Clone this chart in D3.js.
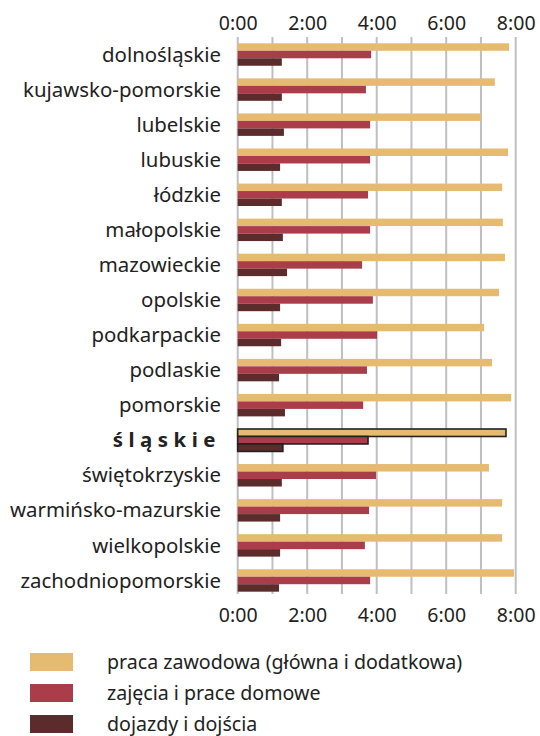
<!DOCTYPE html>
<html>
<head>
<meta charset="utf-8">
<script src="https://cdn.jsdelivr.net/npm/d3@7"></script>
<style>
  body { margin: 0; background: #fff; }
  svg { display: block; font-family: "Noto Sans", "Open Sans", sans-serif; }
</style>
</head>
<body>
<script>
// regions (voivodeships), top to bottom
const regions = ["dolnośląskie", "kujawsko-pomorskie", "lubelskie", "lubuskie", "łódzkie",
  "małopolskie", "mazowieckie", "opolskie", "podkarpackie", "podlaskie", "pomorskie",
  "śląskie", "świętokrzyskie", "warmińsko-mazurskie", "wielkopolskie", "zachodniopomorskie"];

// time in hours
const pracaZawodowa = [7.81, 7.40, 7.00, 7.78, 7.61, 7.63, 7.69, 7.52, 7.09, 7.32, 7.87, 7.72, 7.23, 7.61, 7.61, 7.95];
const praceDomowe   = [3.84, 3.69, 3.81, 3.81, 3.75, 3.81, 3.58, 3.89, 4.01, 3.72, 3.61, 3.75, 3.98, 3.78, 3.66, 3.81];
const dojazdy       = [1.27, 1.27, 1.33, 1.22, 1.27, 1.30, 1.42, 1.22, 1.25, 1.19, 1.36, 1.30, 1.27, 1.22, 1.22, 1.19];

const seriesNames = ["praca zawodowa (główna i dodatkowa)", "zajęcia i prace domowe", "dojazdy i dojścia"];
const seriesColors = ["#e6ba70", "#ab3c4a", "#5c2b2b"];
const tickValues = [0, 2, 4, 6, 8];
const highlight = "śląskie";

const width = 540, height = 736;
const svg = d3.select("body").append("svg")
  .attr("width", width)
  .attr("height", height);

const x = d3.scaleLinear().domain([0, 8]).range([237.7, 515.7]);
const y = d3.scaleBand().domain(regions).range([37, 598]).paddingInner(0.36).paddingOuter(0.18);
const ySub = d3.scaleBand().domain([0, 1, 2]).range([0, y.bandwidth()]);

const fmt = d => d + ":00";

// gridlines every hour
svg.append("g")
  .selectAll("line")
  .data(d3.range(0, 9))
  .join("line")
  .attr("x1", d => x(d)).attr("x2", d => x(d))
  .attr("y1", 37).attr("y2", 594)
  .attr("stroke", "#bfbec3")
  .attr("stroke-width", 2);

// top and bottom axis labels
const topAxis = svg.append("g")
  .attr("transform", "translate(0,30)")
  .call(d3.axisTop(x).tickValues(tickValues).tickFormat(fmt).tickSize(0).tickPadding(0));
const bottomAxis = svg.append("g")
  .attr("transform", "translate(0,603)")
  .call(d3.axisBottom(x).tickValues(tickValues).tickFormat(fmt).tickSize(0).tickPadding(0));
[topAxis, bottomAxis].forEach(a => {
  a.select(".domain").remove();
  a.selectAll("text").attr("font-size", 19.5).attr("fill", "#222").attr("font-family", "Noto Sans, sans-serif");
});
topAxis.selectAll("text").attr("dy", 0);
bottomAxis.selectAll("text").attr("dy", "0.95em");

const series = [pracaZawodowa, praceDomowe, dojazdy];

// bars
const groups = svg.append("g")
  .selectAll("g")
  .data(regions)
  .join("g")
  .attr("transform", d => `translate(0,${y(d)})`);

groups.each(function(region, i) {
  const isHi = region === highlight;
  d3.select(this).selectAll("rect")
    .data(series.map((s, k) => ({ k: k, v: s[i] })))
    .join("rect")
    .attr("x", x(0))
    .attr("y", d => ySub(d.k))
    .attr("width", d => x(d.v) - x(0))
    .attr("height", ySub.bandwidth())
    .attr("fill", d => seriesColors[d.k])
    .attr("stroke", isHi ? "#222" : "none")
    .attr("stroke-width", isHi ? 1.6 : 0);
});

// region labels
svg.append("g")
  .selectAll("text")
  .data(regions)
  .join("text")
  .attr("x", 221)
  .attr("y", d => y(d) + y.bandwidth() / 2)
  .attr("dy", "0.35em")
  .attr("text-anchor", "end")
  .attr("font-size", 20.4)
  .attr("fill", "#222")
  .attr("font-weight", d => d === highlight ? "bold" : "normal")
  .attr("letter-spacing", d => d === highlight ? "0.27em" : null)
  .text(d => d);

// legend
const legend = svg.append("g")
  .selectAll("g")
  .data(seriesNames)
  .join("g")
  .attr("transform", (d, i) => `translate(30,${653 + i * 31})`);

legend.append("rect")
  .attr("width", 43)
  .attr("height", 18)
  .attr("fill", (d, i) => seriesColors[i]);

legend.append("text")
  .attr("x", 77)
  .attr("y", 9)
  .attr("dy", "0.35em")
  .attr("font-size", 19.6)
  .attr("fill", "#222")
  .text(d => d);
</script>
</body>
</html>
